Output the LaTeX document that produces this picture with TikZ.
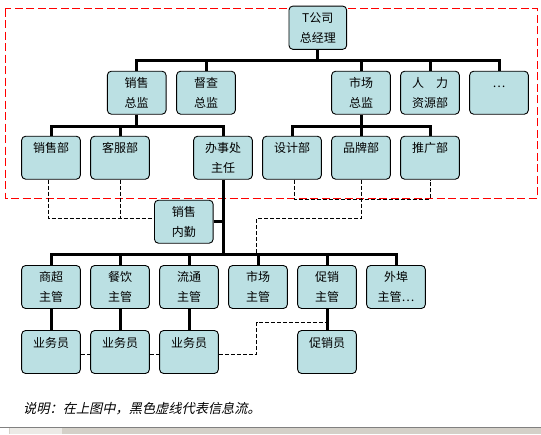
\documentclass[tikz,border=0pt]{standalone}
\usepackage{fontspec}
\setmainfont{Noto Sans CJK SC}
\newfontfamily\notefont[FakeSlant=0.22]{Noto Sans CJK SC}
\usetikzlibrary{calc}
\definecolor{boxfill}{RGB}{187, 224, 227}
\definecolor{framered}{RGB}{255, 0, 0}
\definecolor{barbg}{RGB}{212, 208, 200}
\tikzset{
orgbox/.style={
  draw,
  line width=0.9pt,
  rounded corners=4pt,
  fill=boxfill,
  minimum width=58.7pt,
  minimum height=43pt,
  inner sep=0pt,
  align=center,
  font=\fontsize{12}{20}\selectfont
},
treeline/.style={
  line width=3pt,
  draw=black
},
treebar/.style={
  treeline,
  line cap=rect
},
infoline/.style={
  line width=0.9pt,
  dash pattern=on 4pt off 2pt
},
frameline/.style={
  draw=framered,
  line width=1.2pt,
  dash pattern=on 8pt off 3.5pt
},
notetext/.style={
  anchor=west,
  inner sep=0pt,
  font=\notefont\fontsize{13.2}{16}\selectfont
}
}

\begin{document}
\begin{tikzpicture}[x=1pt, y=-1pt]
  \useasboundingbox (0,0) rectangle (541,434);
  % Red dashed frame
  \draw[frameline] (5.3,8.7) rectangle (537.3,198.3);
  % Top
  \node[orgbox, minimum width=57.7pt, minimum height=43.3pt] (gm) at (317.8,27.7) {T公司\\总经理};
  % Second row
  \node[orgbox] (xs2) at (136.7,92.7) {销售\\总监};
  \node[orgbox] (dc2) at (206,92.7) {督查\\总监};
  \node[orgbox] (sc2) at (361,92.7) {市场\\总监};
  \node[orgbox] (rl2) at (430,92.7) {人　力\\资源部};
  \node[orgbox] (etc2) at (499,92.7) {\vphantom{销}…\\~};
  % Third row
  \node[orgbox] (xsb) at (51,157.7) {销售部\\~};
  \node[orgbox] (kf) at (120,157.7) {客服部\\~};
  \node[orgbox] (bs) at (223,157.7) {办事处\\主任};
  \node[orgbox] (sj) at (292,157.7) {设计部\\~};
  \node[orgbox] (pp) at (361,157.7) {品牌部\\~};
  \node[orgbox] (tg) at (430,157.7) {推广部\\~};
  \node[orgbox] (nq) at (183.8,221.7) {销售\\内勤};
  % Fourth row
  \node[orgbox] (ss4) at (51,287) {商超\\主管};
  \node[orgbox] (cy4) at (120,287) {餐饮\\主管};
  \node[orgbox] (lt4) at (189,287) {流通\\主管};
  \node[orgbox] (sc4) at (258,287) {市场\\主管};
  \node[orgbox] (cx4) at (327,287) {促销\\主管};
  \node[orgbox] (wb4) at (396,287) {外埠\\主管…};
  % Fifth row
  \node[orgbox] (yw1) at (51,352) {业务员\\~};
  \node[orgbox] (yw2) at (120,352) {业务员\\~};
  \node[orgbox] (yw3) at (189,352) {业务员\\~};
  \node[orgbox] (cxy) at (327,352) {促销员\\~};

  % Tree lines
  \draw[treeline] (gm) -- (gm |- 0,60);
  \draw[treebar] (xs2 |- 0,60) -- (etc2 |- 0,60);
  \foreach \n in {xs2,dc2,sc2,rl2,etc2}
    \draw[treeline] (\n) -- (\n |- 0,60);
  \draw[treeline] (xs2) -- (xs2 |- 0,126);
  \draw[treebar] (xsb |- 0,126) -- (bs |- 0,126);
  \foreach \n in {xsb,kf,bs}
    \draw[treeline] (\n) -- (\n |- 0,126);
  \draw[treeline] (sc2) -- (sc2 |- 0,126);
  \draw[treebar] (sj |- 0,126) -- (tg |- 0,126);
  \foreach \n in {sj,pp,tg}
    \draw[treeline] (\n) -- (\n |- 0,126);
  \draw[treeline] (bs) -- (bs |- 0,254);
  \draw[treeline] (nq) -- (nq -| bs);
  \draw[treebar] (ss4 |- 0,254) -- (wb4 |- 0,254);
  \foreach \n in {ss4,cy4,lt4,sc4,cx4,wb4}
    \draw[treeline] (\n) -- (\n |- 0,254);
  \draw[treeline] (ss4) -- (yw1);
  \draw[treeline] (cy4) -- (yw2);
  \draw[treeline] (lt4) -- (yw3);
  \draw[treeline] (cx4) -- (cxy);

  % Information flow
  \coordinate (nqin) at ([yshift=3.4pt]nq.west);
  \draw[infoline] ([xshift=-2.7pt]xsb.south) |- (nqin);
  \draw[infoline] (kf.south) -- (kf.south |- nqin);
  \draw[infoline] ([xshift=2pt]sj.south) |- (tg.south |- 0,199) -- (tg.south);
  \draw[infoline] (pp.south) |- ([xshift=-1.3pt]sc4.north |- 0,218.7) -- ([xshift=-1.3pt]sc4.north |- 0,254);
  \draw[infoline] ([yshift=-2.3pt]yw1.east) -- ([yshift=-2.3pt]yw2.west);
  \draw[infoline] ([yshift=-2.3pt]yw2.east) -- ([yshift=-2.3pt]yw3.west);
  \coordinate (ywturn) at (256.7,322.3);
  \draw[infoline] ([yshift=-2.3pt]yw3.east) -| (ywturn) -- (ywturn -| cx4.south);

  % Note
  \node[notetext] (note) at (23,408.3) {说明：在上图中，黑色虚线代表信息流。};

  % Scroll bar strip
  \fill[barbg] (0,427) rectangle (541,434);
  \draw[gray, line width=0.6pt] (0,426.8) -- (541,426.8);
  \fill[white] (0,428) rectangle (8.5,434);
  \fill[barbg!45] (10,428) rectangle (62,434);
\end{tikzpicture}
\end{document}
